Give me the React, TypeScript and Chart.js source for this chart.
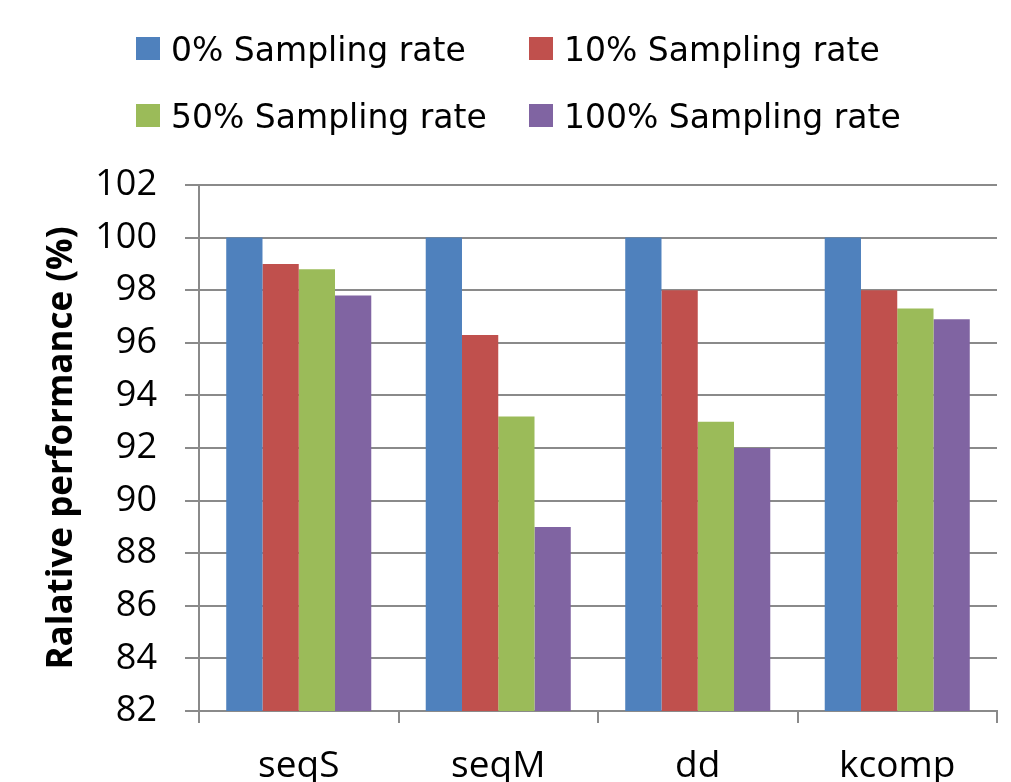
import { useEffect, useRef } from "react";
import { Chart, registerables } from "chart.js";

Chart.register(...registerables);

const categories = ["seqS", "seqM", "dd", "kcomp"];
const seriesLabels = [
  "0% Sampling rate",
  "10% Sampling rate",
  "50% Sampling rate",
  "100% Sampling rate",
];
const rate0 = [100, 100, 100, 100];
const rate10 = [99, 96.3, 98, 98];
const rate50 = [98.8, 93.2, 93, 97.3];
const rate100 = [97.8, 89, 92, 96.9];
const seriesColors = ["#4F81BD", "#C0504D", "#9BBB59", "#8064A2"];
const yTitle = "Ralative performance (%)";
const yMin = 82;
const yMax = 102;
const yStep = 2;

const LEGEND_FONT = "'DejaVu Sans'";
const AXIS_FONT = "'Open Sans'";

const gridLegend = {
  id: "gridLegend",
  afterDraw(chart: any) {
    const ctx = chart.ctx;
    ctx.save();
    ctx.font = `33px ${LEGEND_FONT}`;
    ctx.textBaseline = "alphabetic";
    ctx.textAlign = "left";
    const colX = [136, 529];
    const rowY = [37, 104];
    chart.data.datasets.forEach((ds: any, i: number) => {
      const col = i % 2;
      const row = Math.floor(i / 2);
      ctx.fillStyle = ds.backgroundColor;
      ctx.fillRect(colX[col], rowY[row], 24, 23);
      ctx.fillStyle = "#000";
      ctx.fillText(ds.label, colX[col] + 35, rowY[row] + 24);
    });
    ctx.restore();
  },
};

export default function App() {
  const ref = useRef<HTMLCanvasElement | null>(null);
  useEffect(() => {
    if (!ref.current) return;
    const values = [rate0, rate10, rate50, rate100];
    const chart = new Chart(ref.current, {
      type: "bar",
      data: {
        labels: categories,
        datasets: values.map((v, i) => ({
          label: seriesLabels[i],
          data: v,
          backgroundColor: seriesColors[i],
          borderWidth: 0,
          categoryPercentage: 0.727,
          barPercentage: 1,
        })),
      },
      options: {
        responsive: true,
        maintainAspectRatio: false,
        animation: false,
        layout: { padding: { top: 185, right: 14, bottom: 0, left: 0 } },
        plugins: { legend: { display: false }, tooltip: { enabled: false } },
        scales: {
          x: {
            grid: {
              offset: true,
              drawOnChartArea: false,
              drawTicks: true,
              tickLength: 12,
              color: "#8a8a8a",
              lineWidth: 2,
            },
            border: { display: true, color: "#8a8a8a", width: 2 },
            ticks: {
              font: { family: AXIS_FONT, size: 37 },
              color: "#000",
              padding: 21,
            },
            afterFit: (s: any) => {
              s.height = 71;
            },
          },
          y: {
            min: yMin,
            max: yMax,
            ticks: {
              stepSize: yStep,
              font: { family: AXIS_FONT, size: 36 },
              color: "#000",
              padding: 28,
            },
            grid: { color: "#8a8a8a", lineWidth: 2, tickLength: 14 },
            border: { display: true, color: "#8a8a8a", width: 2 },
            title: {
              display: true,
              text: yTitle,
              font: { family: AXIS_FONT, size: 35, weight: "bold" },
              color: "#000",
              padding: { top: 41, bottom: 0 },
            },
            afterFit: (s: any) => {
              s.width = 199;
            },
          },
        },
      } as any,
      plugins: [gridLegend],
    });
    return () => chart.destroy();
  }, []);
  return (
    <div style={{ position: "absolute", left: 0, top: 0, width: 1011, height: 782, background: "#fff" }}>
      <canvas ref={ref} />
    </div>
  );
}
